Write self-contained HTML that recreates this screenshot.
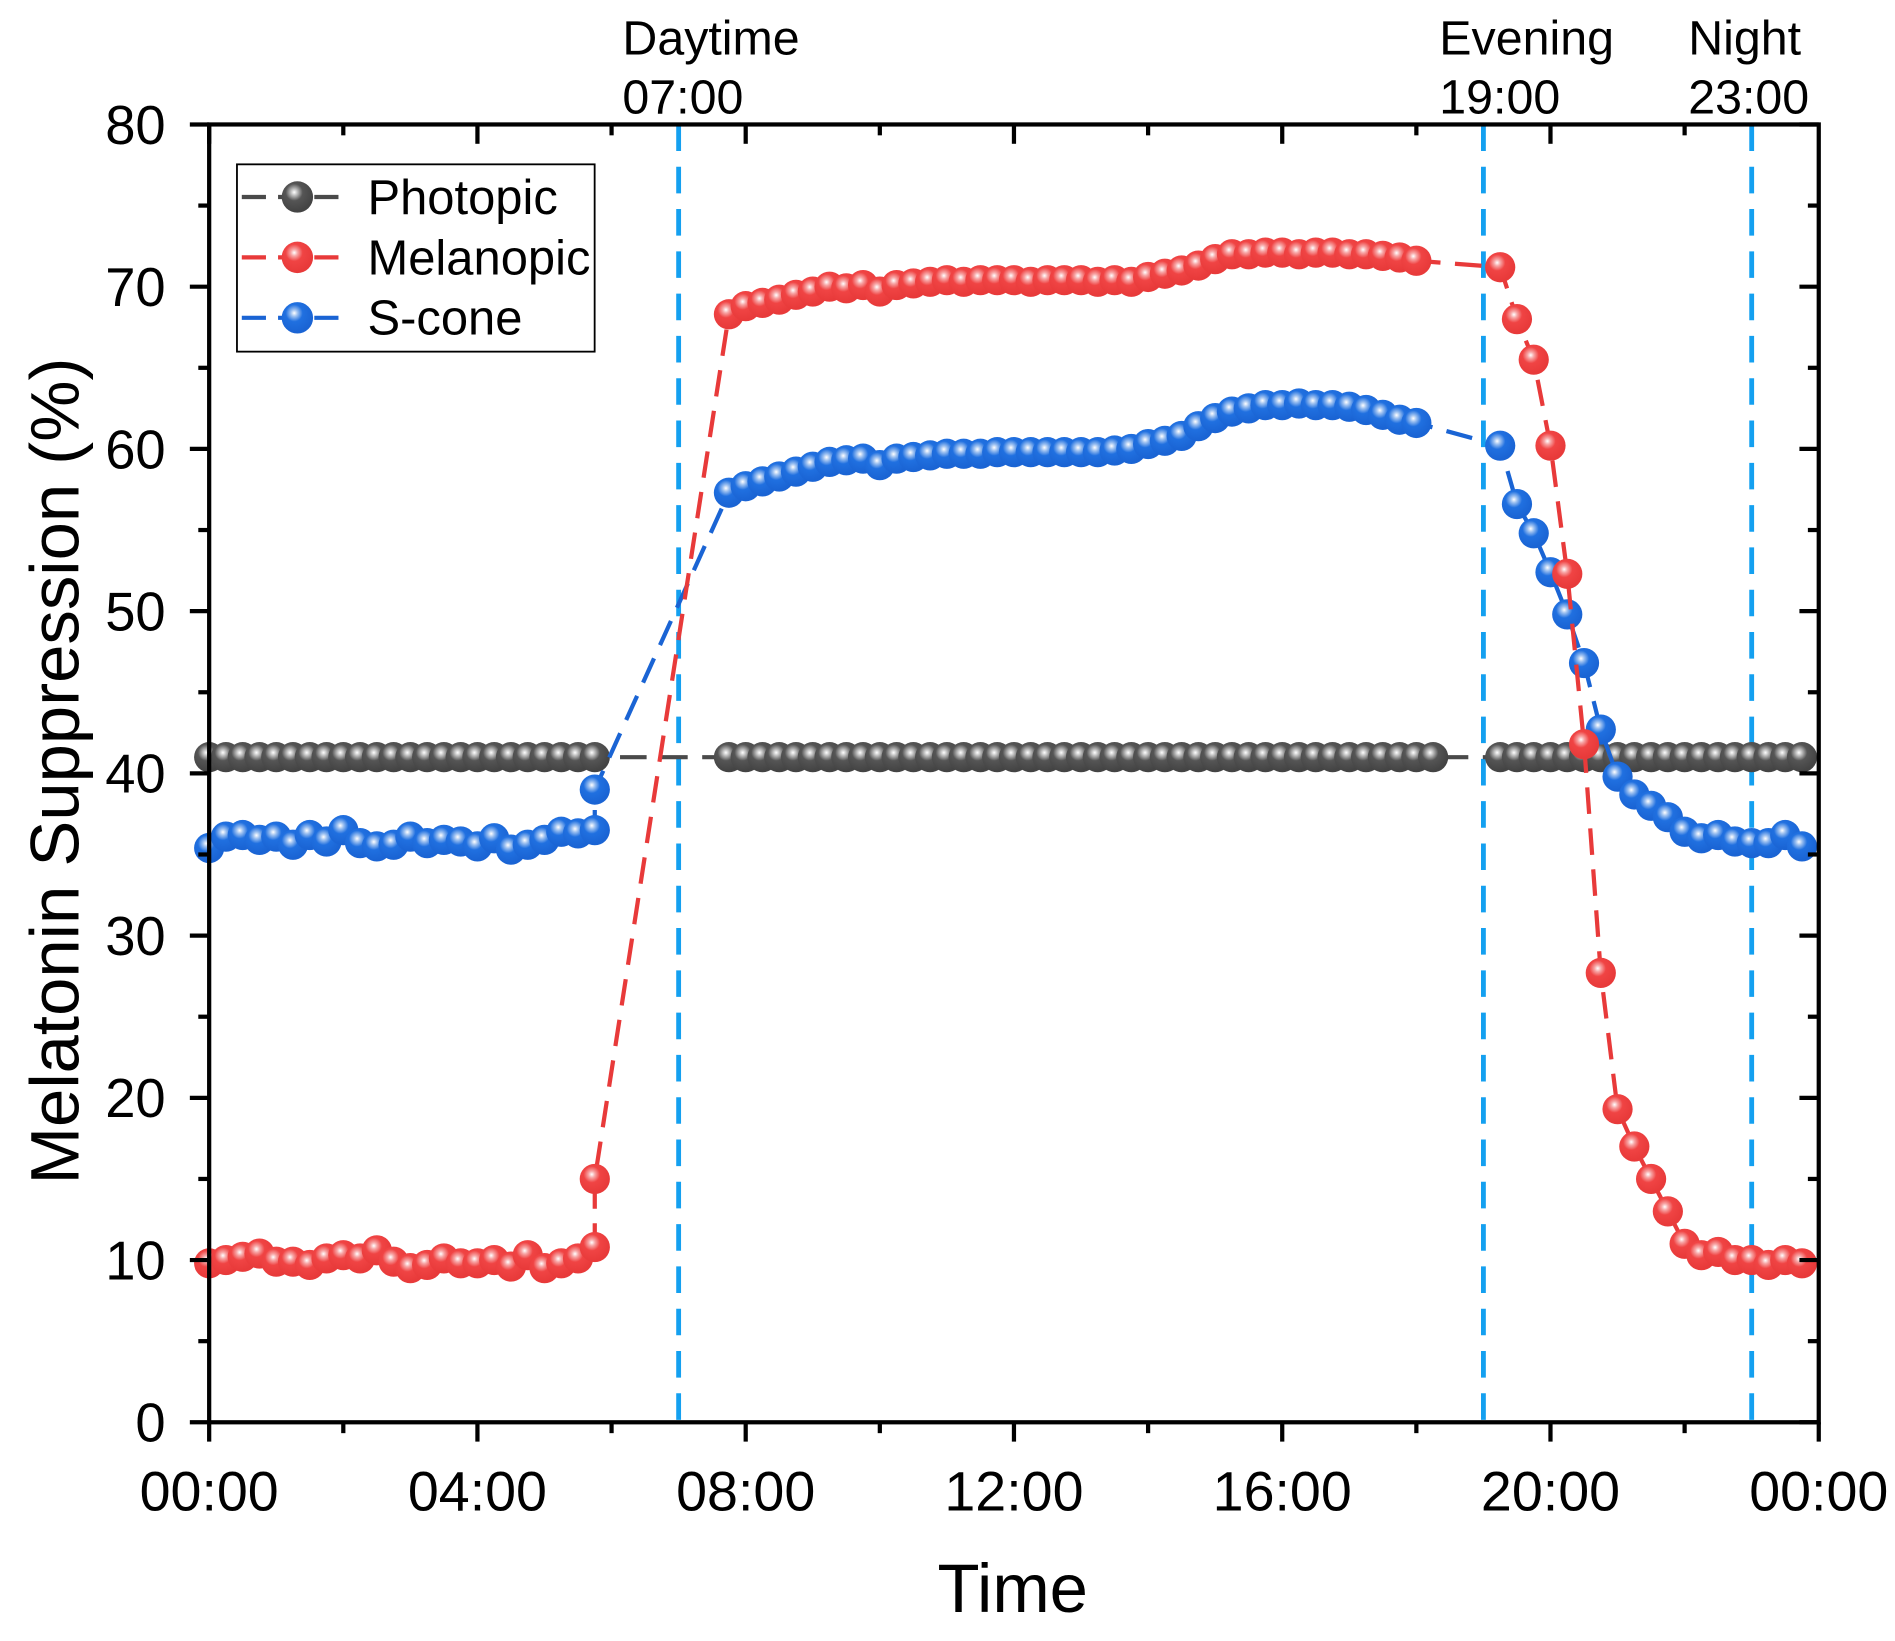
<!DOCTYPE html>
<html><head><meta charset="utf-8"><style>
html,body{margin:0;padding:0;background:#fff;}
svg{display:block;}
text{font-family:"Liberation Sans",Arial,sans-serif;fill:#000;}
</style></head><body>
<svg id="s" width="1895" height="1641" viewBox="0 0 1568 1358" xmlns="http://www.w3.org/2000/svg">
<defs>
<radialGradient id="gk" cx="0.4" cy="0.35" r="0.6"><stop offset="0" stop-color="#fff"/><stop offset="0.18" stop-color="#bbb"/><stop offset="0.45" stop-color="#555"/><stop offset="1" stop-color="#444"/></radialGradient>
<radialGradient id="gr" cx="0.4" cy="0.35" r="0.6"><stop offset="0" stop-color="#fff"/><stop offset="0.18" stop-color="#f7a5a5"/><stop offset="0.45" stop-color="#f04444"/><stop offset="1" stop-color="#e83a3a"/></radialGradient>
<radialGradient id="gb" cx="0.4" cy="0.35" r="0.6"><stop offset="0" stop-color="#fff"/><stop offset="0.18" stop-color="#9cc0f0"/><stop offset="0.45" stop-color="#2070e0"/><stop offset="1" stop-color="#1a64d4"/></radialGradient>
</defs>
<g id="plot"></g>
</svg>
<script>
var X=function(t){return 173+t*55.5;}, Y=function(v){return 1177-v*13.425;};
var ns="http://www.w3.org/2000/svg", g=document.getElementById('plot');
function el(n,a,txt){var e=document.createElementNS(ns,n);for(var k in a)e.setAttribute(k,a[k]);if(txt!==undefined)e.textContent=txt;g.appendChild(e);return e;}
[7,19,23].forEach(function(t){el('line',{x1:X(t),y1:103,x2:X(t),y2:1177,stroke:'#14a0f0','stroke-width':4,'stroke-dasharray':'22,13'});});
var lowR=[9.8,10,10.2,10.4,9.9,9.9,9.7,10.1,10.3,10.1,10.6,9.9,9.5,9.7,10.1,9.8,9.8,10,9.6,10.3,9.5,9.8,10.1,10.8];
var lowB=[35.4,36.1,36.2,35.9,36.1,35.6,36.2,35.8,36.5,35.7,35.5,35.6,36.1,35.7,35.9,35.8,35.5,36,35.3,35.6,35.9,36.4,36.3,36.5];
var dayR=[68.3,68.8,69,69.2,69.5,69.7,70,69.9,70.1,69.7,70.1,70.2,70.3,70.4,70.3,70.4,70.4,70.4,70.3,70.4,70.4,70.4,70.3,70.4,70.3,70.6,70.8,71,71.3,71.7,72,72,72.1,72.1,72,72.1,72.1,72,72,71.9,71.8,71.6];
var dayB=[57.3,57.7,58,58.3,58.6,58.9,59.2,59.3,59.4,59,59.4,59.5,59.6,59.7,59.7,59.7,59.8,59.8,59.8,59.8,59.8,59.8,59.8,59.9,60,60.3,60.5,60.8,61.4,61.9,62.3,62.5,62.7,62.7,62.8,62.7,62.7,62.6,62.4,62.1,61.8,61.6];
var eveR=[71.2,68,65.5,60.2,52.3,41.8,27.7,19.3,17,15,13,11,10.3,10.5,10,10,9.7,10,9.8];
var eveB=[60.2,56.6,54.8,52.4,49.8,46.8,42.7,39.8,38.7,38,37.3,36.4,36,36.2,35.8,35.7,35.7,36.2,35.5];
function build(low,p575,day,eve){var d=[];for(var i=0;i<24;i++)d.push([i*0.25,low[i]]);d.push([5.75,p575]);
for(i=0;i<day.length;i++)d.push([7.75+i*0.25,day[i]]);for(i=0;i<eve.length;i++)d.push([19.25+i*0.25,eve[i]]);return d;}
var R=build(lowR,15,dayR,eveR), B=build(lowB,39,dayB,eveB);
var K=[];for(var t=0;t<=5.76;t+=0.25)K.push([t,41]);for(t=7.75;t<=18.26;t+=0.25)K.push([t,41]);for(t=19.25;t<=23.76;t+=0.25)K.push([t,41]);
function series(d,col,grad){var pts=d.map(function(p){return X(p[0]).toFixed(1)+','+Y(p[1]).toFixed(1);}).join(' ');
el('polyline',{points:pts,fill:'none',stroke:col,'stroke-width':3.5,'stroke-dasharray':'22,12'});
d.forEach(function(p){el('circle',{cx:X(p[0]),cy:Y(p[1]),r:12.5,fill:'url(#'+grad+')'});});}
series(K,'#4a4a4a','gk');series(B,'#1a64d4','gb');series(R,'#e83a3a','gr');
el('rect',{x:173,y:103,width:1332,height:1074,fill:'none',stroke:'#000','stroke-width':3.5});
for(var h=0;h<=24;h+=2){var x=X(h),maj=h%4==0;el('line',{x1:x,y1:1177,x2:x,y2:1177+(maj?16:9),stroke:'#000','stroke-width':3.5});
if(h<24)el('line',{x1:x,y1:103,x2:x,y2:103+(maj?16:9),stroke:'#000','stroke-width':3.5});
if(maj){var lab=('0'+(h%24)).slice(-2)+':00';el('text',{x:x,y:1250,'font-size':46,'text-anchor':'middle'},lab);}}
for(var v=0;v<=80;v+=5){var y=Y(v),maj=v%10==0;el('line',{x1:173,y1:y,x2:173-(maj?16:9),y2:y,stroke:'#000','stroke-width':3.5});
el('line',{x1:1505,y1:y,x2:1505-(maj?16:9),y2:y,stroke:'#000','stroke-width':3.5});
if(maj)el('text',{x:137,y:y+16,'font-size':45,'text-anchor':'end'},String(v));}
el('text',{x:838,y:1334,'font-size':57,'text-anchor':'middle'},'Time');
el('text',{x:0,y:0,'font-size':57,'text-anchor':'middle',transform:'translate(65,638) rotate(-90)'},'Melatonin Suppression (%)');
[[515,'Daytime','07:00'],[1191,'Evening','19:00'],[1397,'Night','23:00']].forEach(function(a){
el('text',{x:a[0],y:45,'font-size':40},a[1]);el('text',{x:a[0],y:94,'font-size':40},a[2]);});
el('rect',{x:196,y:136,width:296,height:155,fill:'#fff',stroke:'#000','stroke-width':1.5});
[['Photopic','#4a4a4a','gk',163],['Melanopic','#e83a3a','gr',213],['S-cone','#1a64d4','gb',263]].forEach(function(a){
el('line',{x1:200,y1:a[3],x2:282,y2:a[3],stroke:a[1],'stroke-width':3.5,'stroke-dasharray':'20,10'});
el('circle',{cx:246,cy:a[3],r:13,fill:'url(#'+a[2]+')'});
el('text',{x:304,y:a[3]+14,'font-size':40.5},a[0]);});
</script>
</body></html>
